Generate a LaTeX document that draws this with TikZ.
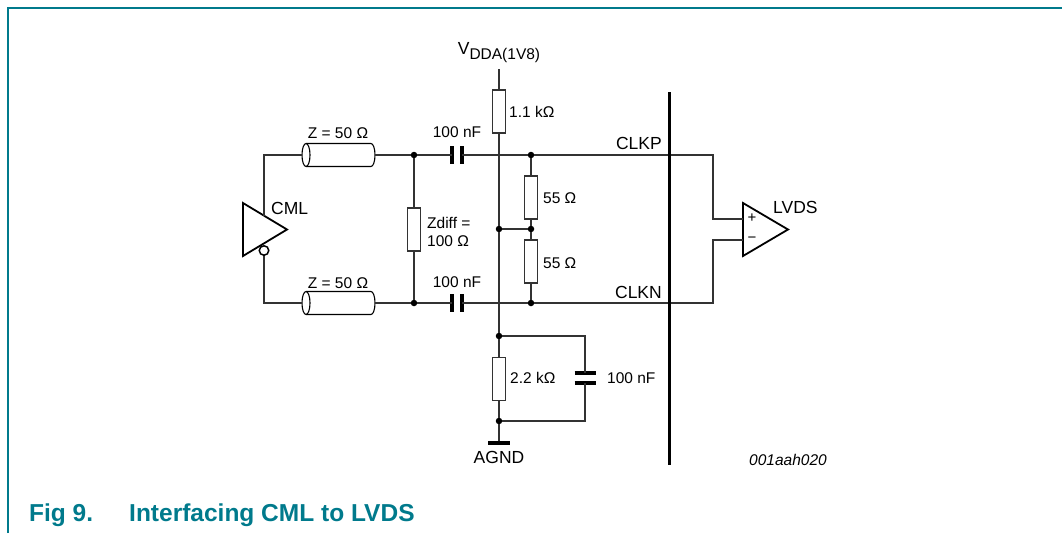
\documentclass[tikz,border=0pt]{standalone}
\usepackage{fontspec}
\setmainfont{Liberation Sans}
\usetikzlibrary{positioning}
\definecolor{nxpteal}{RGB}{0,122,140}

% coax line: name, left x, y
\newcommand\coax[3]{%
  \draw[line width=1.1pt] (#2,#3) ellipse [x radius=4, y radius=11.5];
  \draw[line width=1.1pt] (#2,#3-11.5) -- (#2+65,#3-11.5)
    arc [start angle=-90, end angle=90, x radius=4, y radius=11.5] -- (#2,#3+11.5);
  \coordinate (#1-l) at (#2-4,#3);
  \coordinate (#1-r) at (#2+69,#3);
}
% capacitor in a horizontal wire: name, x, y
\newcommand\capH[3]{%
  \draw[plate] (#2-5,#3-9) -- (#2-5,#3+9) (#2+5,#3-9) -- (#2+5,#3+9);
  \coordinate (#1-l) at (#2-5,#3);
  \coordinate (#1-r) at (#2+5,#3);
}
% capacitor in a vertical wire: name, x, y
\newcommand\capV[3]{%
  \draw[plate] (#2-10.5,#3-5) -- (#2+10.5,#3-5) (#2-10.5,#3+5) -- (#2+10.5,#3+5);
  \coordinate (#1-t) at (#2,#3-5);
  \coordinate (#1-b) at (#2,#3+5);
}

\tikzset{
  wire/.style = {line width=1.3pt, draw=black!80},
  res/.style = {draw=black!80, line width=1.1pt, fill=white, minimum width=13pt,
                minimum height=43pt, inner sep=0pt},
  plate/.style = {line width=3.8pt, draw=black},
  junc/.style = {circle, fill=black, inner sep=0pt, minimum size=6.5pt},
  lbl/.style = {font=\fontsize{15.5}{18}\selectfont, inner sep=0pt},
  big/.style = {font=\fontsize{17.5}{20}\selectfont, inner sep=0pt},
  captxt/.style = {font=\fontsize{24.5}{28}\selectfont\bfseries, text=nxpteal,
                anchor=base west, inner sep=0pt},
}

\begin{document}
\begin{tikzpicture}[x=1pt, y=-1pt]
    \useasboundingbox (0,0) rectangle (1062,533);
    \draw[nxpteal, line width=1.6pt] (8,533) -- (8,8) -- (1062,8);

    % corners and junctions
    \coordinate (tl) at (264,155);
    \coordinate (bl) at (264,303);
    \coordinate (tr) at (713,155);
    \coordinate (br) at (713,303);
    \coordinate (vdd) at (499,69);
    \coordinate (gnd) at (499,443);
    \coordinate (ct) at (585,336);
    \coordinate (cbr) at (585,421);
    \node[junc] (zt) at (414,155) {};
    \node[junc] (zb) at (414,303) {};
    \node[junc] (pt) at (531,155) {};
    \node[junc] (pb) at (531,303) {};
    \node[junc] (pm) at (531,229) {};
    \node[junc] (vm) at (499,229) {};
    \node[junc] (gt) at (499,336) {};
    \node[junc] (gb) at (499,421) {};

    % resistors
    \node[res] (r11) at (499,111.5) {};
    \node[res] (rz) at (414,229.5) {};
    \node[res] (r55a) at (531,197.5) {};
    \node[res] (r55b) at (531,261.5) {};
    \node[res] (r22) at (499,379) {};

    % coax and capacitors
    \coax{zt1}{306}{155}
    \coax{zb1}{306}{303}
    \capH{ca}{457}{155}
    \capH{cb}{457}{303}
    \capV{cg}{585}{378}

    % CML driver
    \draw[line width=1.8pt] (243,203) -- (287,229.5) -- (243,256) -- cycle;
    \node[circle, draw, line width=1.5pt, minimum size=9.5pt, inner sep=0pt] (bub) at (264,250.5) {};
    \coordinate (bin) at (264,215.5);

    % LVDS receiver
    \draw[line width=1.8pt] (743,203) -- (788,229.5) -- (743,256) -- cycle;
    \coordinate (inp) at (743,219);
    \coordinate (inn) at (743,240);
    \node[font=\fontsize{15}{15}\selectfont, inner sep=0pt] (plus) at (752,218.5) {+};
    \node[font=\fontsize{15}{15}\selectfont, inner sep=0pt] (minus) at (752,240) {−};

    % wires
    \draw[wire] (bin) -- (tl) -- (zt1-l);
    \draw[wire] (zt1-r) -- (zt) -- (ca-l);
    \draw[wire] (ca-r) -- (pt) -- (tr) |- (inp);
    \draw[wire] (bub.south) -- (bl) -- (zb1-l);
    \draw[wire] (zb1-r) -- (zb) -- (cb-l);
    \draw[wire] (cb-r) -- (pb) -- (br) |- (inn);
    \draw[wire] (zt) -- (rz.north) (rz.south) -- (zb);
    \draw[wire] (pt) -- (r55a.north) (r55a.south) -- (pm) -- (r55b.north) (r55b.south) -- (pb);
    \draw[wire] (pm) -- (vm);
    \draw[wire] (vdd) -- (r11.north) (r11.south) -- (vm) -- (gt) -- (r22.north)
                (r22.south) -- (gb) -- (gnd);
    \draw[wire] (gt) -- (ct) -- (cg-t) (cg-b) -- (cbr) -- (gb);
    \draw[line width=3.8pt] ([xshift=-11pt]gnd) -- ([xshift=11pt]gnd);

    % isolation bar
    \draw[line width=3pt] (669,92) -- (669,465);

    % labels
    \node[lbl] (lzt) at (338,133) {Z = 50 Ω};
    \node[lbl] (lzb) at (338,283) {Z = 50 Ω};
    \node[lbl] (lca) at (457,132) {100 nF};
    \node[lbl] (lcb) at (457,282) {100 nF};
    \node[lbl, anchor=west] (l11) at (509,112) {1.1 kΩ};
    \node[lbl, anchor=west] (lz1) at (427,223) {Zdiff =};
    \node[lbl, anchor=west] (lz2) at (427,241) {100 Ω};
    \node[lbl, anchor=west] (l55a) at (543,198) {55 Ω};
    \node[lbl, anchor=west] (l55b) at (543,263) {55 Ω};
    \node[lbl, anchor=west] (l22) at (510,378) {2.2 kΩ};
    \node[lbl, anchor=west] (lcg) at (607,378) {100 nF};
    \node[big] (lagnd) at (499,457) {AGND};
    \node[big, anchor=west] (lcml) at (271,208) {CML};
    \node[big, anchor=west] (llvds) at (773,207) {LVDS};
    \node[big, anchor=east] (lclkp) at (662,143) {CLKP};
    \node[big, anchor=east] (lclkn) at (662,292) {CLKN};
    \node[big] (lvdd) at (499,53) {V\raisebox{-5pt}{\fontsize{15.5}{15.5}\selectfont DDA(1V8)}};
    \node[font=\fontsize{15.5}{18}\selectfont\itshape, inner sep=0pt] (lid) at (788,460) {001aah020};

    % caption
    \node[captxt] (fig) at (29,521) {Fig 9.};
    \node[captxt] (title) at (129,521) {Interfacing CML to LVDS};
\end{tikzpicture}
\end{document}
